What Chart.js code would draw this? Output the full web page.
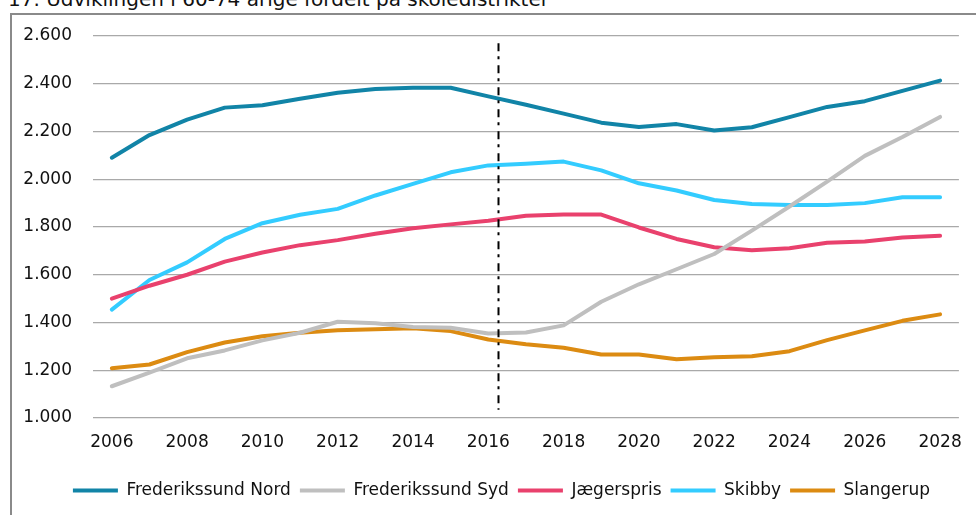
<!DOCTYPE html>
<html lang="da">
<head>
<meta charset="utf-8">
<script src="https://cdn.jsdelivr.net/npm/chart.js@4"></script>
<style>
    html, body { margin: 0; padding: 0; background: #fff; overflow: hidden; }
    #wrap { position: relative; width: 976px; height: 515px; overflow: hidden; }
    #titel {
        position: absolute; left: 8px; top: -11px;
        font: 20px "DejaVu Sans", Verdana, sans-serif; line-height: 20px;
        color: #111; white-space: nowrap;
    }
    #ramme {
        position: absolute; left: 10px; top: 13px; width: 1000px; height: 600px;
        border-left: 2px solid #8a8a8a; border-top: 2px solid #8a8a8a;
    }
    #graf { position: absolute; left: 0; top: 0; }
</style>
</head>
<body>
<div id="wrap">
    <div id="titel">17. Udviklingen i 60-74 årige fordelt på skoledistrikter</div>
    <div id="ramme"></div>
    <canvas id="graf" width="976" height="515"></canvas>
</div>
<script>
// Årstal og tal pr. skoledistrikt
const aar = ['2006', '2007', '2008', '2009', '2010', '2011', '2012', '2013', '2014', '2015', '2016',
    '2017', '2018', '2019', '2020', '2021', '2022', '2023', '2024', '2025', '2026', '2027', '2028'];

const frederikssundNord = [2090, 2185, 2250, 2300, 2310, 2337, 2362, 2378, 2383, 2383, 2347,
    2312, 2275, 2237, 2219, 2231, 2204, 2218, 2260, 2303, 2327, 2370, 2413];
const frederikssundSyd = [1133, 1190, 1250, 1283, 1325, 1357, 1403, 1397, 1381, 1378, 1354,
    1358, 1388, 1487, 1560, 1623, 1687, 1785, 1886, 1990, 2098, 2177, 2261];
const jaegerspris = [1500, 1554, 1600, 1655, 1693, 1724, 1745, 1772, 1795, 1811, 1826,
    1847, 1852, 1852, 1798, 1750, 1715, 1703, 1711, 1734, 1739, 1756, 1763];
const skibby = [1454, 1578, 1652, 1750, 1816, 1851, 1876, 1932, 1981, 2029, 2058,
    2065, 2074, 2037, 1983, 1953, 1913, 1896, 1892, 1892, 1900, 1925, 1925];
const slangerup = [1208, 1224, 1276, 1316, 1342, 1357, 1368, 1372, 1376, 1364, 1329,
    1309, 1294, 1266, 1266, 1246, 1254, 1259, 1280, 1326, 1367, 1407, 1434];

const yMin = 1000;
const yMax = 2600;
const yStep = 200;

// Skillelinje mellem faktiske tal og prognose (lidt efter 2016)
const skelIndex = 10.27;
const skelFra = 2570;
const skelTil = 1035;

const fontNavn = '"DejaVu Sans", Verdana, sans-serif';

function tusind(v) {
    return String(v).replace(/\B(?=(\d{3})+(?!\d))/g, '.');
}

function serie(navn, data, farve) {
    return {
        label: navn,
        data: data,
        borderColor: farve,
        backgroundColor: farve,
        borderWidth: 4,
        borderCapStyle: 'round',
        borderJoinStyle: 'round',
        pointRadius: 0,
        pointHoverRadius: 0,
        pointStyle: 'line',
        tension: 0,
        fill: false
    };
}

// Stiplet lodret linje
const skillelinje = {
    id: 'skillelinje',
    afterDatasetsDraw(chart) {
        const xs = chart.scales.x;
        const ys = chart.scales.y;
        const i = Math.floor(skelIndex);
        const x0 = xs.getPixelForValue(i);
        const x1 = xs.getPixelForValue(i + 1);
        const x = Math.round(x0 + (x1 - x0) * (skelIndex - i)) + 0.5;
        const ctx = chart.ctx;
        ctx.save();
        ctx.strokeStyle = '#000';
        ctx.lineWidth = 2;
        ctx.setLineDash([8, 5, 3, 6]);
        ctx.beginPath();
        ctx.moveTo(x, ys.getPixelForValue(skelFra));
        ctx.lineTo(x, ys.getPixelForValue(skelTil));
        ctx.stroke();
        ctx.restore();
    }
};

// Flyt forklaringen lidt til højre, så den står under selve plotområdet
const flytLegend = {
    id: 'flytLegend',
    afterLayout(chart) {
        const lg = chart.legend;
        if (lg) {
            lg.left += 20;
            lg.right += 20;
            lg.top += 3;
            lg.bottom += 3;
        }
    }
};

const ctx = document.getElementById('graf').getContext('2d');
new Chart(ctx, {
    type: 'line',
    data: {
        labels: aar,
        datasets: [
            serie('Frederikssund Nord', frederikssundNord, '#1184a7'),
            serie('Frederikssund Syd', frederikssundSyd, '#bfbfbf'),
            serie('Jægerspris', jaegerspris, '#e9416d'),
            serie('Skibby', skibby, '#33ccff'),
            serie('Slangerup', slangerup, '#dc8b12')
        ]
    },
    options: {
        responsive: false,
        animation: false,
        layout: {
            padding: { left: 0, right: 13, top: 36, bottom: 9 }
        },
        plugins: {
            title: { display: false },
            tooltip: { enabled: false },
            legend: {
                position: 'bottom',
                labels: {
                    usePointStyle: true,
                    pointStyle: 'line',
                    pointStyleWidth: 45,
                    padding: 9,
                    color: '#111',
                    font: { family: fontNavn, size: 17 }
                }
            }
        },
        scales: {
            x: {
                offset: true,
                grid: { display: false, drawTicks: false },
                border: { display: false },
                afterFit(scale) { scale.height = 52; },
                ticks: {
                    autoSkip: false,
                    maxRotation: 0,
                    padding: 14,
                    color: '#111',
                    font: { family: fontNavn, size: 17 },
                    callback: function (v, i) { return i % 2 === 0 ? aar[i] : ''; }
                }
            },
            y: {
                min: yMin,
                max: yMax,
                grid: { color: '#a9a9a9', lineWidth: 1.2, drawTicks: false },
                border: { display: false },
                afterFit(scale) { scale.width = 93; },
                ticks: {
                    stepSize: yStep,
                    padding: 21,
                    color: '#111',
                    font: { family: fontNavn, size: 17 },
                    callback: function (v) { return tusind(v); }
                }
            }
        }
    },
    plugins: [skillelinje, flytLegend]
});
</script>
</body>
</html>
